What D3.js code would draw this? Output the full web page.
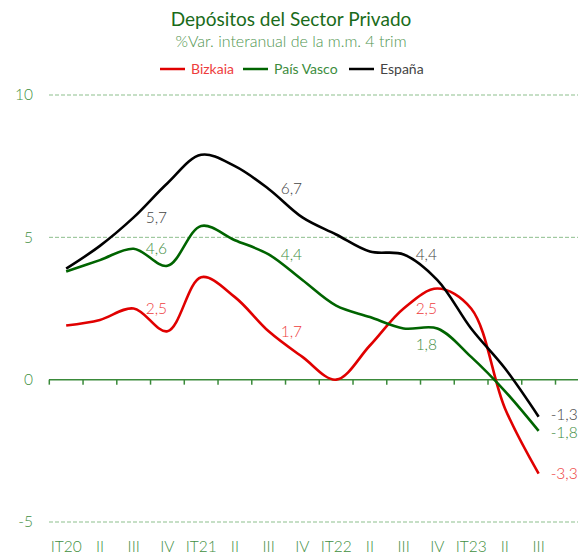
<!DOCTYPE html>
<html>
<head>
<meta charset="utf-8">
<script src="https://cdn.jsdelivr.net/npm/d3@7"></script>
<style>
  body { margin: 0; background: #fff; }
  svg { font-family: Lato, "Open Sans", sans-serif; }
</style>
</head>
<body>
<div id="chart"></div>
<script>
// quarters
const categories = ["IT20", "II", "III", "IV", "IT21", "II", "III", "IV", "IT22", "II", "III", "IV", "IT23", "II", "III"];
const bizkaia = [1.9, 2.1, 2.5, 1.7, 3.6, 2.9, 1.7, 0.8, 0.0, 1.2, 2.5, 3.2, 2.5, -1.0, -3.3];
const paisVasco = [3.8, 4.2, 4.6, 4.0, 5.4, 4.9, 4.4, 3.5, 2.6, 2.2, 1.8, 1.8, 0.8, -0.4, -1.8];
const espana = [3.9, 4.7, 5.7, 6.9, 7.9, 7.5, 6.7, 5.7, 5.1, 4.5, 4.4, 3.5, 1.8, 0.4, -1.3];
const yTicks = [-5, 0, 5, 10];
const labelIdx = [2, 6, 10, 14];

const series = [
  { name: "Bizkaia", values: bizkaia, color: "#e00000", text: "#ee3c3c" },
  { name: "País Vasco", values: paisVasco, color: "#006400", text: "#3c8c3c" },
  { name: "España", values: espana, color: "#000000", text: "#444444" }
];

const width = 578, height = 555;
const svg = d3.select("#chart").append("svg")
  .attr("width", width).attr("height", height);

const x = d3.scaleBand().domain(d3.range(categories.length)).range([49.3, 555.5]).padding(0);
const y = d3.scaleLinear().domain([-5, 10]).range([522, 95]);
const cx = i => x(i) + x.bandwidth() / 2;

// title
svg.append("text").attr("x", 291).attr("y", 26).attr("text-anchor", "middle")
  .style("font-size", "19px").style("fill", "#1a6b1a").text("Depósitos del Sector Privado");
svg.append("text").attr("x", 291).attr("y", 47).attr("text-anchor", "middle")
  .style("font-size", "16px").style("font-weight", 300).style("fill", "#4f954f")
  .text("%Var. interanual de la m.m. 4 trim");

// legend
const legendX = [160, 243, 349];
const legend = svg.append("g");
series.forEach((s, i) => {
  const g = legend.append("g").attr("transform", `translate(${legendX[i]},69)`);
  g.append("line").attr("x1", 0).attr("x2", 25).attr("stroke", s.color).attr("stroke-width", 2.5);
  g.append("text").attr("x", 31).attr("dy", "0.35em").style("font-size", "14px")
    .style("fill", s.text).text(s.name);
});

// grid + y labels
svg.append("g").selectAll("line").data(yTicks.filter(d => d !== 0)).enter().append("line")
  .attr("x1", 49).attr("x2", width)
  .attr("y1", d => y(d)).attr("y2", d => y(d))
  .attr("stroke", "#8dbf8d").attr("stroke-width", 1).attr("stroke-dasharray", "4,2");

svg.append("g").selectAll("text").data(yTicks).enter().append("text")
  .attr("x", 33).attr("y", d => y(d)).attr("dy", "0.35em").attr("text-anchor", "end")
  .style("font-size", "15.5px").style("font-weight", 300).style("fill", "#3f8f3f").text(d => d);

// zero axis with ticks at band edges
svg.append("line").attr("x1", 49).attr("x2", width).attr("y1", y(0)).attr("y2", y(0))
  .attr("stroke", "#3a8a3a").attr("stroke-width", 1.5);
svg.append("g").selectAll("line").data(d3.range(categories.length + 1)).enter().append("line")
  .attr("x1", i => 49.3 + i * x.step()).attr("x2", i => 49.3 + i * x.step())
  .attr("y1", y(0)).attr("y2", y(0) + 5)
  .attr("stroke", "#3a8a3a").attr("stroke-width", 1.5);

// category labels
svg.append("g").selectAll("text").data(categories).enter().append("text")
  .attr("x", (d, i) => cx(i)).attr("y", 551.5).attr("text-anchor", "middle")
  .style("font-size", "15.5px").style("font-weight", 300).style("fill", "#3f8f3f").text(d => d);

// lines
const line = d3.line().x((d, i) => cx(i)).y(d => y(d)).curve(d3.curveCatmullRom.alpha(0.5));
svg.append("g").selectAll("path").data(series).enter().append("path")
  .attr("d", d => line(d.values))
  .attr("fill", "none").attr("stroke", d => d.color).attr("stroke-width", 2.6)
  .attr("stroke-linejoin", "round");

// data labels (nudged where Excel moved them apart)
const nudge = { "País Vasco": { 10: 16, 14: 2 }, "España": { 14: -2 } };
const fmt = v => d3.format(".1f")(v).replace(".", ",").replace("−", "-");
series.forEach(s => {
  const n = nudge[s.name] || {};
  svg.append("g").selectAll("text").data(labelIdx).enter().append("text")
    .attr("x", i => cx(i) + 12)
    .attr("y", i => y(s.values[i]) + (n[i] || 0))
    .attr("dy", "0.35em")
    .style("font-size", "15.5px").style("font-weight", 300).style("fill", s.text)
    .text(i => fmt(s.values[i]));
});
</script>
</body>
</html>
